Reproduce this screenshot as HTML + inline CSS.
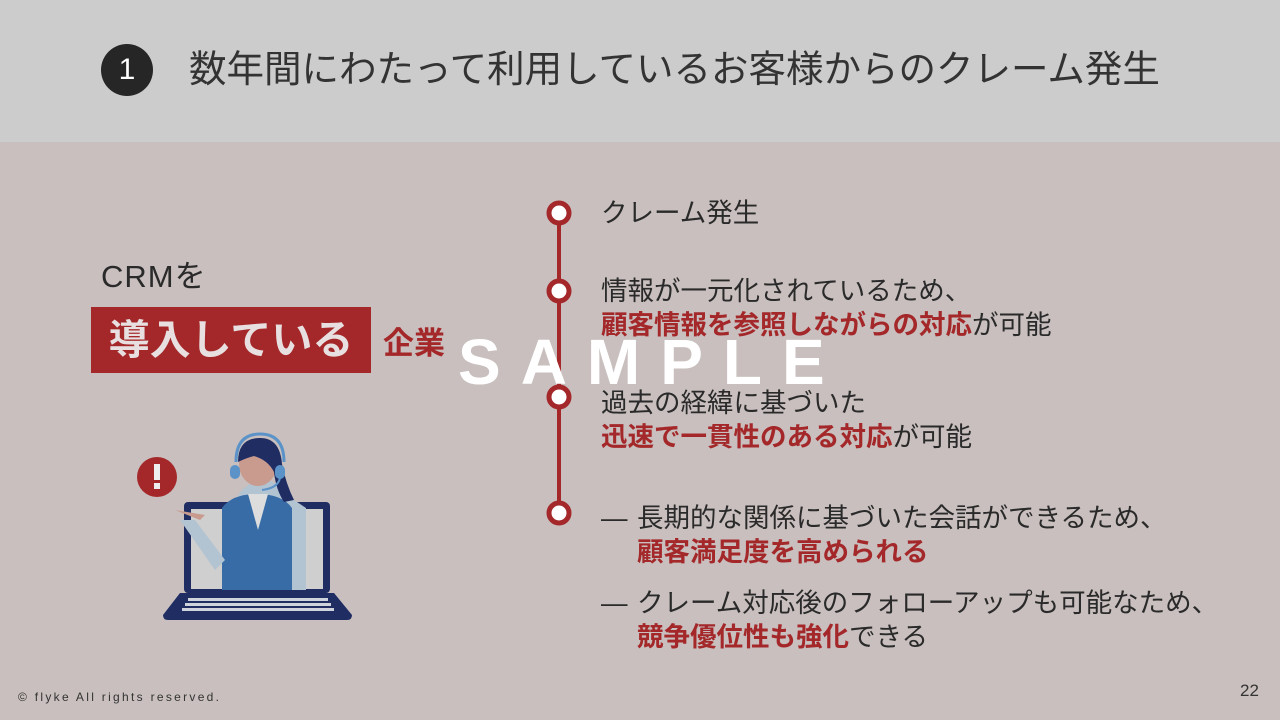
<!DOCTYPE html>
<html><head><meta charset="utf-8"><style>
*{margin:0;padding:0;box-sizing:border-box}
body{width:1280px;height:720px;position:relative;overflow:hidden;background:#c8bfbe;font-family:"Liberation Sans","Noto Sans CJK JP",sans-serif;color:#2a2a2a}
.top{position:absolute;left:0;top:0;width:1280px;height:142px;background:#cccccc}
.t{position:absolute;white-space:nowrap}
.r{color:#a4282a;font-weight:bold}
.b{font-size:26.5px;line-height:34px}
</style></head><body>
<div class="top"></div>
<div class="t" style="left:101px;top:44px;width:52px;height:52px;border-radius:50%;background:#262626;color:#fff;font-size:30px;line-height:52px;text-align:center">1</div>
<div class="t" style="left:189px;top:46px;font-size:37.5px;line-height:46px;color:#333">数年間にわたって利用しているお客様からのクレーム発生</div>

<div class="t" style="left:101px;top:257px;font-size:31px;line-height:40px;letter-spacing:1px">CRMを</div>
<div class="t" style="left:91px;top:307px;width:280px;height:66px;background:#a4282a;color:#e8e0e0;font-size:41px;font-weight:bold;line-height:66px;text-align:center">導入している</div>
<div class="t r" style="left:383px;top:325px;font-size:31px;line-height:38px">企業</div>

<svg class="t" style="left:0;top:0" width="1280" height="720">
<line x1="559" y1="213" x2="559" y2="513" stroke="#a4282a" stroke-width="4"/>
<g fill="#fff" stroke="#a4282a" stroke-width="5">
<circle cx="559" cy="213" r="10"/><circle cx="559" cy="291" r="10"/><circle cx="559" cy="397" r="10"/><circle cx="559" cy="513" r="10"/></g>
<circle cx="157" cy="477" r="20" fill="#a4282a"/>
<rect x="154" y="464" width="6" height="16" fill="#eee"/><rect x="154" y="483" width="6" height="6" fill="#eee"/>
<rect x="184" y="502" width="146" height="91" rx="4" fill="#1f2d63"/>
<rect x="191" y="509" width="132" height="80" fill="#cfcfcf"/>
<path d="M262 478 q-20 8 -25 20 l-15 10 v82 h84 v-82 l-15 -10 q-5 -12 -29 -20z" fill="#b2c3d2"/>
<path d="M222 508 q10 -14 35 -14 q25 0 35 14 v82 h-70z" fill="#386ca6"/>
<path d="M248 494 h20 l-10 36z" fill="#ddd"/>
<path d="M200 520 l-25 -10 l30 5z" fill="#c99a8e"/>
<path d="M180 520 l35 50 l10 -10 l-30 -40z" fill="#b2c3d2"/>
<ellipse cx="258" cy="464" rx="19" ry="22" fill="#c99a8e"/>
<path d="M238 462 q0 -24 22 -24 q20 0 22 26 q4 20 12 36 l-10 2 q-8 -12 -10 -30 q-6 -12 -20 -16 q-8 2 -16 6z" fill="#1f2d63"/>
<path d="M236 462 q0 -28 24 -28 q24 0 24 28" fill="none" stroke="#5b93c9" stroke-width="3"/>
<rect x="230" y="465" width="10" height="14" rx="5" fill="#5b93c9"/><rect x="275" y="465" width="10" height="14" rx="5" fill="#5b93c9"/>
<path d="M280 478 q-2 10 -18 12" fill="none" stroke="#5b93c9" stroke-width="2"/>
<path d="M180 593 h154 l18 22 q0 5 -5 5 h-179 q-5 0 -5 -5z" fill="#1f2d63"/>
<g fill="#cfd3dc"><rect x="188" y="598" width="140" height="3"/><rect x="185" y="603" width="146" height="3"/><rect x="182" y="608" width="152" height="3"/></g>
</svg>

<div class="t b" style="left:601px;top:196px">クレーム発生</div>
<div class="t b" style="left:601px;top:274px">情報が一元化されているため、<br><span class="r">顧客情報を参照しながらの対応</span>が可能</div>
<div class="t b" style="left:601px;top:386px">過去の経緯に基づいた<br><span class="r">迅速で一貫性のある対応</span>が可能</div>
<div class="t b" style="left:601px;top:501px">—</div>
<div class="t b" style="left:637px;top:501px">長期的な関係に基づいた会話ができるため、<br><span class="r">顧客満足度を高められる</span></div>
<div class="t b" style="left:601px;top:586px">—</div>
<div class="t b" style="left:637px;top:586px">クレーム対応後のフォローアップも可能なため、<br><span class="r">競争優位性も強化</span>できる</div>

<div class="t" style="left:458px;top:320px;font-size:64px;line-height:84px;font-weight:bold;color:#fff;letter-spacing:20px">SAMPLE</div>
<div class="t" style="left:18px;top:690px;font-size:12px;letter-spacing:2.3px;color:#333">© flyke All rights reserved.</div>
<div class="t" style="left:1240px;top:681px;font-size:17px;color:#333">22</div>
</body></html>
